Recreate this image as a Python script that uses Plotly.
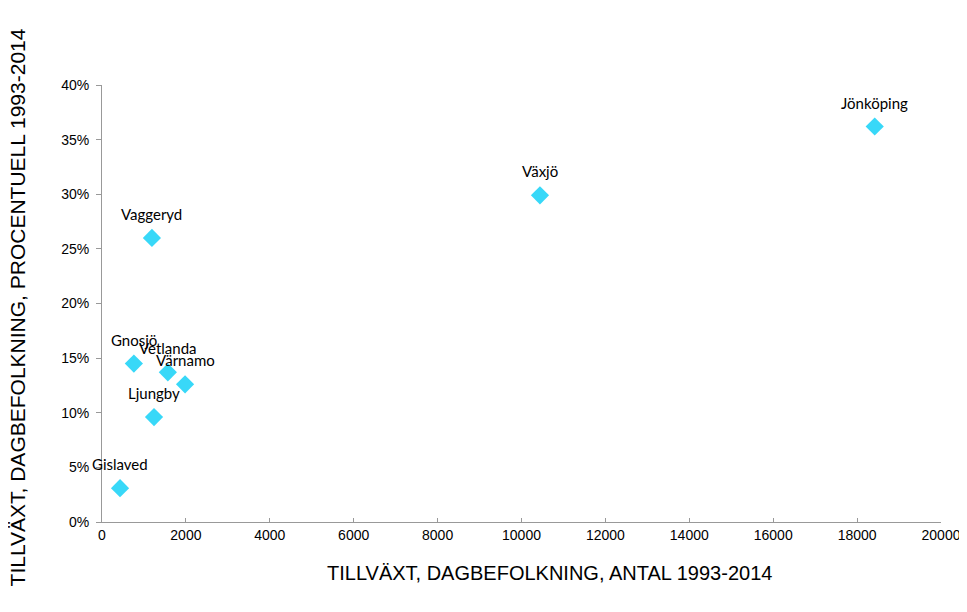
import plotly.graph_objects as go

names = ["Jönköping", "Växjö", "Vaggeryd", "Gnosjö", "Vetlanda", "Värnamo", "Ljungby", "Gislaved"]
antal = [18420, 10440, 1190, 760, 1570, 1980, 1240, 430]
procent = [0.362, 0.299, 0.260, 0.145, 0.137, 0.126, 0.096, 0.031]

x_ticks = list(range(0, 20001, 2000))
x_ticklabels = [str(v) for v in x_ticks]
y_ticks = [0, 0.05, 0.10, 0.15, 0.20, 0.25, 0.30, 0.35, 0.40]
y_ticklabels = ["0%", "5%", "10%", "15%", "20%", "25%", "30%", "35%", "40%"]

x_title = "TILLVÄXT, DAGBEFOLKNING, ANTAL 1993-2014"
y_title = "TILLVÄXT, DAGBEFOLKNING, PROCENTUELL 1993-2014"

fig = go.Figure()
fig.add_trace(go.Scatter(
    x=antal, y=procent, mode="markers",
    marker=dict(symbol="diamond", size=14, color="#38d8f8", line=dict(width=0)),
    cliponaxis=False, showlegend=False,
))
for n, xv, yv in zip(names, antal, procent):
    fig.add_annotation(x=xv, y=yv, text=n, showarrow=False, yshift=24,
                       font=dict(family="Lato, Open Sans, sans-serif", size=15, color="#000000"))

title_font = "Liberation Sans, Arial, sans-serif"
fig.add_annotation(xref="paper", yref="paper", x=0.533, y=-0.1167, text=x_title, showarrow=False,
                   xanchor="center", yanchor="middle",
                   font=dict(family=title_font, size=20, color="#000000"))
fig.add_annotation(xref="paper", yref="paper", x=-0.1013, y=0.491, text=y_title, showarrow=False,
                   textangle=-90, xanchor="center", yanchor="middle",
                   font=dict(family=title_font, size=21, color="#000000"))

axis_font = dict(family=title_font, size=14, color="#000000")
fig.update_xaxes(range=[0, 20000], tickvals=x_ticks, ticktext=x_ticklabels, ticks="inside", ticklen=4,
                 tickcolor="#999999", showline=True, linecolor="#999999", linewidth=1,
                 showgrid=False, zeroline=False, tickfont=axis_font)
fig.update_yaxes(range=[0, 0.40], tickvals=y_ticks, ticktext=y_ticklabels, ticks="outside", ticklen=5,
                 tickcolor="#999999", showline=True, linecolor="#999999", linewidth=1,
                 showgrid=False, zeroline=False, tickfont=axis_font, ticklabelstandoff=4)
fig.update_layout(width=959, height=604, plot_bgcolor="white", paper_bgcolor="white",
                  margin=dict(l=94, r=26, t=77, b=90, autoexpand=False))
fig.write_html("out.html")
